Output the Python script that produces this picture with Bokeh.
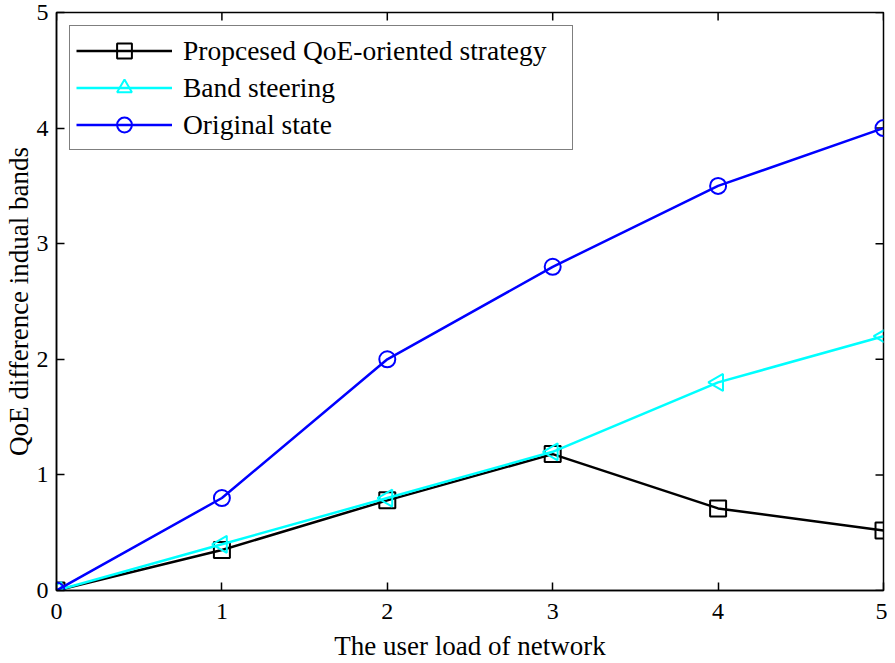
import math
from bokeh.plotting import figure
from bokeh.models import Range1d, Legend, LegendItem, FixedTicker
from bokeh.embed import file_html
from bokeh.resources import INLINE

x_load = [0, 1, 2, 3, 4, 5]
proposed = [0, 0.35, 0.78, 1.18, 0.71, 0.52]
band_steering = [0, 0.40, 0.80, 1.20, 1.80, 2.20]
original = [0, 0.80, 2.00, 2.80, 3.50, 4.00]
ticks = [0, 1, 2, 3, 4, 5]
labels = ["Propcesed QoE-oriented strategy", "Band steering", "Original state"]

FONT = "Liberation Serif"

p = figure(width=887, height=663, output_backend="svg", toolbar_location=None,
           x_range=Range1d(0, 5), y_range=Range1d(0, 5),
           min_border_left=50, min_border_right=4, min_border_top=12, min_border_bottom=72,
           x_axis_label="The user load of network",
           y_axis_label="QoE difference indual bands")
p.grid.visible = False
p.outline_line_color = "black"
p.outline_line_width = 1.5
p.background_fill_color = "white"
p.border_fill_color = "white"

for ax in (p.xaxis[0], p.yaxis[0]):
    ax.ticker = FixedTicker(ticks=ticks)
    ax.minor_tick_line_color = None
    ax.major_tick_in = 8
    ax.major_tick_out = 0
    ax.major_tick_line_width = 1.5
    ax.axis_line_width = 1.5
    ax.major_label_text_font = FONT
    ax.major_label_text_font_size = "24px"
    ax.major_label_text_color = "black"
    ax.axis_label_text_font = FONT
    ax.axis_label_text_font_size = "27px"
    ax.axis_label_text_font_style = "normal"
    ax.axis_label_text_color = "black"
p.xaxis[0].major_label_standoff = 13
p.xaxis[0].axis_label_standoff = 9
p.yaxis[0].major_label_standoff = 8
p.yaxis[0].axis_label_standoff = 0

# inward ticks on the top and right edges of the box
top_y = [5] * len(ticks)
right_x = [5] * len(ticks)
p.ray(x=ticks, y=top_y, length=8, length_units="screen", angle=-math.pi / 2,
      line_color="black", line_width=1.5)
p.ray(x=right_x, y=ticks, length=8, length_units="screen", angle=math.pi,
      line_color="black", line_width=1.5)

l1 = p.line(x_load, proposed, line_color="black", line_width=2.5)
m1 = p.scatter(x_load, proposed, marker="square", size=16, fill_color=None,
               line_color="black", line_width=2)
l2 = p.line(x_load, band_steering, line_color="#00FFFF", line_width=2.5)
m2 = p.scatter(x_load, band_steering, marker="triangle", size=17, angle=math.pi / 2,
               fill_color=None, line_color="#00FFFF", line_width=2)
l3 = p.line(x_load, original, line_color="#0000FF", line_width=2.5)
m3 = p.scatter(x_load, original, marker="circle", size=16, fill_color=None,
               line_color="#0000FF", line_width=2)

legend = Legend(items=[LegendItem(label=labels[0], renderers=[l1, m1]),
                       LegendItem(label=labels[1], renderers=[l2, m2]),
                       LegendItem(label=labels[2], renderers=[l3, m3])],
                location="top_left")
legend.margin = 13
legend.padding = 6
legend.spacing = 0
legend.glyph_width = 96
legend.glyph_height = 37
legend.label_height = 37
legend.label_width = 383
legend.label_standoff = 11
legend.label_text_font = FONT
legend.label_text_font_size = "27.5px"
legend.label_text_color = "black"
legend.border_line_color = "black"
legend.border_line_width = 1.5
legend.background_fill_alpha = 1.0
p.add_layout(legend)

open("out.html", "w").write(file_html(p, INLINE))
